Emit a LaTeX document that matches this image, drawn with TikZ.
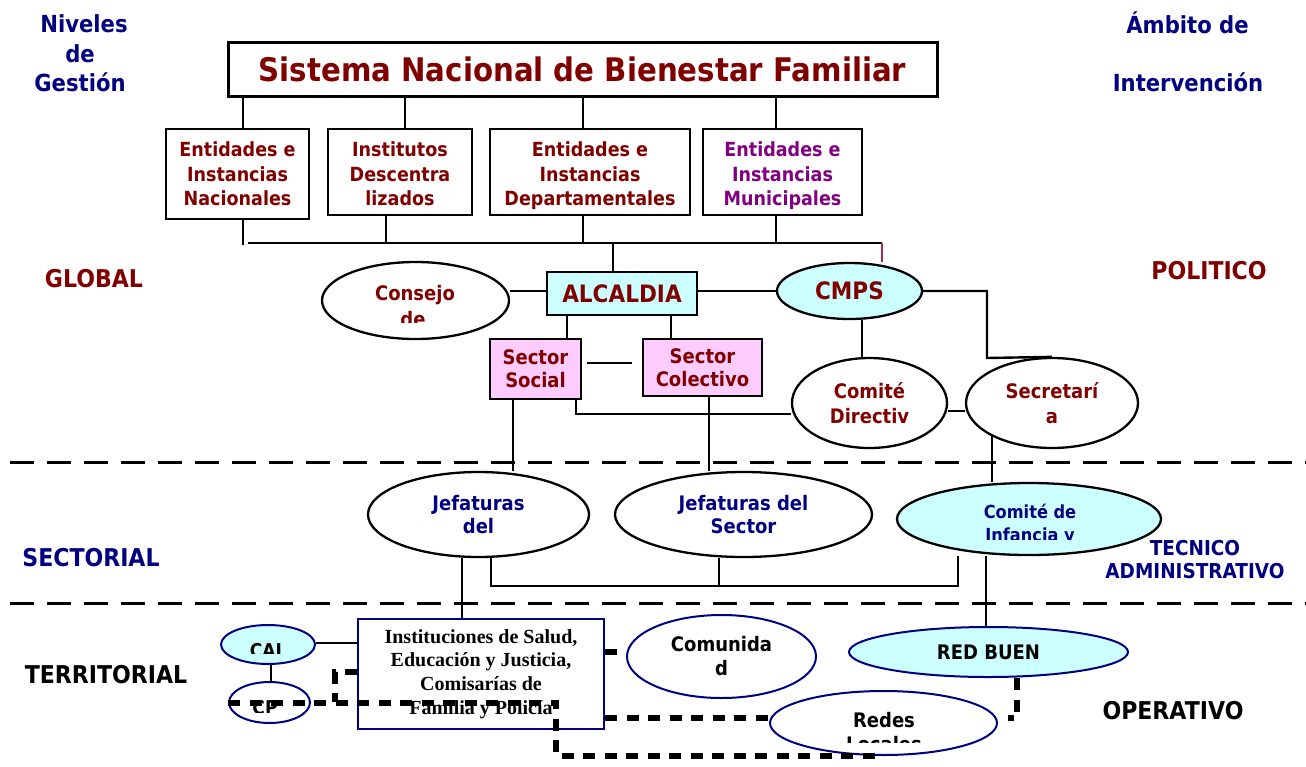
\documentclass[tikz,border=0pt]{standalone}
\usepackage{fontspec}
\setmainfont{DejaVu Sans}[FakeStretch=0.9]
\newfontfamily\timesb{Liberation Serif}
\usetikzlibrary{shapes.geometric,backgrounds}
\definecolor{dred}{HTML}{800000}
\definecolor{navyc}{HTML}{000080}
\definecolor{purp}{HTML}{800080}
\definecolor{cyanf}{HTML}{CCFFFF}
\definecolor{pinkf}{HTML}{FFCCFF}
\definecolor{crim}{HTML}{B0285A}
\newcommand\fsz[2]{\fontsize{#1}{#2}\selectfont\bfseries}
\begin{document}
\begin{tikzpicture}[x=1pt,y=-1pt,
  box/.style={draw, line width=2.5pt, rectangle, inner sep=0pt, align=center, fill=white},
  ell/.style={draw, line width=2.3pt, ellipse, inner sep=0pt, align=center, fill=white},
  conn/.style={line width=2.4pt},
  dotline/.style={line width=6pt, dash pattern=on 12pt off 9.5pt},
  sepline/.style={line width=3pt, dash pattern=on 24pt off 13pt},
  tx/.style={inner sep=0pt, anchor=base},
  mtx/.style={inner sep=0pt, align=center},
  lbl/.style={inner sep=0pt, anchor=base, font=\fsz{24.5}{29}},
]
\useasboundingbox (0,0) rectangle (1306,766);

% ---------- top level
\node[box, line width=3pt, minimum width=709pt, minimum height=54pt, text=dred, font=\fsz{32.5}{38}] (title) at (582.5,69) {Sistema Nacional de Bienestar Familiar};
\node[box, minimum width=143pt, minimum height=90pt, text=dred, font=\fsz{19.5}{24.5}] (b1) at (237.5,174) {Entidades e\\Instancias\\Nacionales};
\node[box, minimum width=144pt, minimum height=86pt] (b2) at (400,172) {};
\node[mtx, text=dred, font=\fsz{19.5}{24.5}] (b2t) at (400,174) {Institutos\\Descentra\\lizados};
\node[box, minimum width=200pt, minimum height=86pt] (b3) at (590,172) {};
\node[mtx, text=dred, font=\fsz{19.5}{24.5}] (b3t) at (590,176) {Entidades e\\Instancias\\Departamentales};
\node[box, minimum width=159pt, minimum height=86pt] (b4) at (782.5,172) {};
\node[mtx, text=purp, font=\fsz{19.5}{24.5}] (b4t) at (782.5,176) {Entidades e\\Instancias\\Municipales};

% ---------- political level
\node[box, fill=cyanf, minimum width=150pt, minimum height=43pt, text=dred, font=\fsz{24}{28}] (alc) at (622,293.5) {ALCALDIA};
\node[ell, minimum width=187pt, minimum height=77pt] (cons) at (415.5,300.5) {};
\node[ell, fill=cyanf, minimum width=145pt, minimum height=56pt, text=dred, font=\fsz{24}{28}] (cmps) at (849.5,291) {CMPS};
\node[box, fill=pinkf, line width=2pt, minimum width=91pt, minimum height=60pt, text=dred, font=\fsz{20}{23}] (ssoc) at (535.5,369) {Sector\\Social};
\node[box, fill=pinkf, line width=2pt, minimum width=119pt, minimum height=57pt, text=dred, font=\fsz{20}{23}] (scol) at (702.5,367.5) {Sector\\Colectivo};
\node[ell, minimum width=155pt, minimum height=90pt, text=dred, font=\fsz{20}{25}] (cdir) at (869.5,403) {Comité\\Directiv};
\node[ell, minimum width=172pt, minimum height=90pt, text=dred, font=\fsz{20}{25}] (secr) at (1052,403) {Secretarí\\a};

% ---------- sectorial level
\node[ell, minimum width=221pt, minimum height=85pt, text=navyc, font=\fsz{20}{23}] (jef1) at (478.5,514.5) {Jefaturas\\del};
\node[ell, minimum width=257pt, minimum height=85pt, text=navyc, font=\fsz{20}{23}] (jef2) at (743.5,514.5) {Jefaturas del\\Sector};
\node[ell, fill=cyanf, minimum width=264pt, minimum height=72pt] (cinf) at (1029,519) {};

% ---------- territorial level
\node[box, draw=navyc, line width=2pt, minimum width=246pt, minimum height=110pt, font=\timesb\fontsize{20}{23.7}\selectfont\bfseries] (inst) at (481,674) {Instituciones de Salud,\\Educación y Justicia,\\Comisarías de\\Familia y Policía};
\node[ell, draw=navyc, fill=cyanf, line width=2pt, minimum width=94pt, minimum height=39pt] (cai) at (268,644.5) {};
\node[ell, draw=navyc, line width=2pt, minimum width=81pt, minimum height=41pt] (cp) at (269.5,702.5) {};
\node[ell, draw=navyc, line width=2pt, minimum width=189pt, minimum height=83pt, font=\fsz{20}{24}] (comu) at (721.5,656.5) {Comunida\\d};
\node[ell, draw=navyc, fill=cyanf, line width=2pt, minimum width=279pt, minimum height=50pt, font=\fsz{20}{24}] (red) at (988.5,652) {RED BUEN};
\node[ell, draw=navyc, line width=2pt, minimum width=227pt, minimum height=64pt] (redes) at (883.5,723) {};

% ---------- clipped texts
\begin{scope}
\clip (300,250) rectangle (530,322);
\node[tx, text=dred, font=\fsz{20}{26}] (consT1) at (415,300) {Consejo};
\node[tx, text=dred, font=\fsz{20}{26}] (consT2) at (413,326) {de};
\end{scope}
\begin{scope}
\clip (890,480) rectangle (1170,539);
\node[tx, text=navyc, font=\fsz{18}{23}] (cinfT1) at (1030,518) {Comité de};
\node[tx, text=navyc, font=\fsz{18}{23}] (cinfT2) at (1030,541) {Infancia y};
\end{scope}
\begin{scope}
\clip (215,620) rectangle (320,653);
\node[tx, font=\fsz{19}{23}] (caiT) at (266,657) {CAI};
\end{scope}
\begin{scope}
\clip (225,680) rectangle (315,712);
\node[tx, font=\fsz{19}{23}] (cpT) at (265,714) {CP};
\end{scope}
\begin{scope}
\clip (765,688) rectangle (1000,742);
\node[tx, font=\fsz{20}{24}] (redesT1) at (884,727) {Redes};
\node[tx, font=\fsz{20}{24}] (redesT2) at (884,751) {Locales};
\end{scope}

% ---------- side labels
\node[lbl, text=navyc, font=\fsz{23.5}{29}] (niv1) at (84,32) {Niveles};
\node[lbl, text=navyc, font=\fsz{23.5}{29}] (niv2) at (80,62) {de};
\node[lbl, text=navyc, font=\fsz{23.5}{29}] (niv3) at (80,91) {Gestión};
\node[lbl, text=navyc, font=\fsz{23.5}{29}] (amb1) at (1187.5,33) {Ámbito de};
\node[lbl, text=navyc, font=\fsz{23.5}{29}] (amb2) at (1188,91) {Intervención};
\node[lbl, text=dred] (global) at (94,287) {GLOBAL};
\node[lbl, text=dred] (politico) at (1209,279) {POLITICO};
\node[lbl, text=navyc] (sectorial) at (91,566) {SECTORIAL};
\node[lbl] (territorial) at (106,683) {TERRITORIAL};
\node[lbl, text=navyc, font=\fsz{20.5}{23}] (tec1) at (1195,555) {TECNICO};
\node[lbl, text=navyc, font=\fsz{20.5}{23}] (tec2) at (1195,578) {ADMINISTRATIVO};
\node[lbl] (operativo) at (1173,719) {OPERATIVO};

% ---------- connectors (behind the shapes)
\begin{pgfonlayer}{background}
\begin{scope}[conn]
\coordinate (busL) at (248,243);
\coordinate (busR) at (882,243);
\draw (title.south -| 243,0) -- (b1.north -| 243,0);
\draw (title.south -| 405,0) -- (b2.north -| 405,0);
\draw (title.south -| 583,0) -- (b3.north -| 583,0);
\draw (title.south -| 776,0) -- (b4.north -| 776,0);
\draw (b1.south -| 243,0) -- (243,245);
\draw (b2.south -| 386,0) -- (386,243);
\draw (b3.south -| 583,0) -- (583,243);
\draw (b4.south -| 776,0) -- (776,243);
\draw (busL) -- (busR);
\draw[crim, line width=1.8pt] (busR) -- (busR |- cmps.north);
\draw (613,243) -- (alc.north -| 613,0);
\draw (cons.east |- 0,291) -- (alc.west |- 0,291);
\draw (alc.east |- 0,291) -- (cmps.west);
\draw (cmps.east) -| (987,358) -- (secr.north);
\draw (cmps.south -| 862,0) -- (cdir.north -| 862,0);
\draw (cdir.east |- 0,411) -- (secr.west |- 0,411);
\draw (alc.south -| 567,0) -- (ssoc.north -| 567,0);
\draw (alc.south -| 671,0) -- (scol.north -| 671,0);
\draw ([xshift=5pt]ssoc.east |- 0,363) -- ([xshift=-10pt]scol.west |- 0,363);
\draw (ssoc.south -| 576,0) |- (cdir.west |- 0,414);
\draw (ssoc.south -| 513,0) -- (jef1.north -| 513,0);
\draw (scol.south -| 709,0) -- (jef2.north -| 709,0);
\draw (secr.209) -- (secr.209 |- cinf.north);
\draw (jef1.south -| 491,0) -- (491,586) -| (cinf.south -| 958,0);
\draw (jef2.south -| 719,0) -- (719,586);
\draw (jef1.south -| 462,0) -- (inst.north -| 462,0);
\draw (cinf.south -| 986,0) -- (red.north -| 986,0);
\draw (cai.east |- 0,643) -- (inst.west |- 0,643);
\draw (cai.south -| 271,0) -- (cp.north -| 271,0);
% level separators
\draw[sepline] (10,462) -- (1306,462);
\draw[sepline] (10,603) -- (1306,603);
\end{scope}
\end{pgfonlayer}

% ---------- thick dotted links (on top)
\draw[dotline] (inst.east |- 0,652) -- (comu.west |- 0,652);
\draw[dotline] (inst.east |- 0,718) -- (redes.west |- 0,718);
\draw[dotline] (red.south -| 1017,0) |- ([xshift=10pt]redes.east |- 0,718);
\draw[dotline] (inst.west |- 0,672) -| (335,702);
\draw[dotline] (cp.west) -- (556,702.5) |- (redes.south);
\end{tikzpicture}
\end{document}
